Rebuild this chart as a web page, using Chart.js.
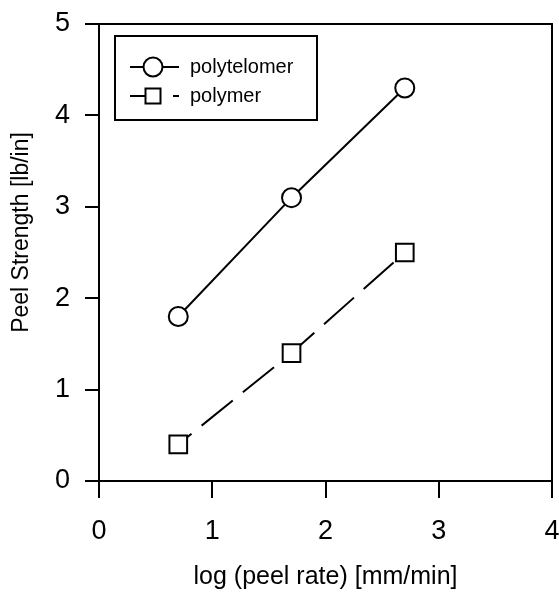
<!DOCTYPE html>
<html>
<head>
<meta charset="utf-8">
<script src="https://cdn.jsdelivr.net/npm/chart.js@4/dist/chart.umd.min.js"></script>
<style>
  body { margin: 0; background: #fff; }
  canvas { display: block; }
</style>
</head>
<body>
<canvas id="peelChart" width="559" height="592"></canvas>
<script>
// log(peel rate) values and the measured peel strengths
const peelRate = [0.7, 1.7, 2.7];
const polytelomer = [1.8, 3.1, 4.3];
const polymer = [0.4, 1.4, 2.5];
const seriesNames = ['polytelomer', 'polymer'];
const yTitleText = 'Peel Strength [lb/in]';

const FONT = "'Liberation Sans', Arial, sans-serif";

const toPoints = (ys) => ys.map((y, i) => ({ x: peelRate[i], y: y }));

// closes the frame on the top and right sides
const frame = {
    id: 'frame',
    afterDraw(chart) {
        const { ctx, chartArea: a } = chart;
        ctx.save();
        ctx.strokeStyle = '#000';
        ctx.lineWidth = 2;
        ctx.beginPath();
        ctx.moveTo(a.left, a.top);
        ctx.lineTo(a.right, a.top);
        ctx.lineTo(a.right, a.bottom);
        ctx.stroke();
        ctx.restore();
    }
};

// vertical axis title, sitting a bit above the middle of the axis
const yTitle = {
    id: 'yTitle',
    afterDraw(chart) {
        const { ctx, chartArea: a } = chart;
        ctx.save();
        ctx.translate(22, (a.top + a.bottom) / 2 - 20);
        ctx.rotate(-Math.PI / 2);
        ctx.fillStyle = '#000';
        ctx.font = '23px ' + FONT;
        ctx.textAlign = 'center';
        ctx.textBaseline = 'middle';
        ctx.fillText(yTitleText, 0, 0);
        ctx.restore();
    }
};

// boxed legend with line + marker samples
const boxLegend = {
    id: 'boxLegend',
    afterDraw(chart) {
        const { ctx, chartArea: a } = chart;
        const left = a.left + 16, top = a.top + 12;
        ctx.save();
        ctx.strokeStyle = '#000';
        ctx.fillStyle = '#fff';
        ctx.lineWidth = 2;
        ctx.strokeRect(left, top, 202, 84);

        const rows = [top + 31, top + 60];
        const mx = left + 38;

        // polytelomer: solid line through a circle
        let y = rows[0];
        ctx.beginPath();
        ctx.moveTo(left + 15, y);
        ctx.lineTo(left + 64, y);
        ctx.stroke();
        ctx.beginPath();
        ctx.arc(mx, y, 9.5, 0, Math.PI * 2);
        ctx.fill();
        ctx.stroke();

        // polymer: short dashes around a square
        y = rows[1];
        ctx.beginPath();
        ctx.moveTo(left + 15, y);
        ctx.lineTo(left + 31, y);
        ctx.moveTo(left + 58, y);
        ctx.lineTo(left + 64, y);
        ctx.stroke();
        ctx.fillRect(mx - 7.5, y - 7.5, 15, 15);
        ctx.strokeRect(mx - 7.5, y - 7.5, 15, 15);

        ctx.fillStyle = '#000';
        ctx.font = '20px ' + FONT;
        ctx.textBaseline = 'middle';
        ctx.textAlign = 'left';
        seriesNames.forEach((name, i) => ctx.fillText(name, left + 75, rows[i]));
        ctx.restore();
    }
};

const ctx = document.getElementById('peelChart').getContext('2d');
new Chart(ctx, {
    type: 'line',
    data: {
        datasets: [{
            label: seriesNames[0],
            data: toPoints(polytelomer),
            borderColor: '#000',
            borderWidth: 2,
            pointStyle: 'circle',
            pointRadius: 9.5,
            pointBorderWidth: 2,
            pointBackgroundColor: '#fff',
            pointBorderColor: '#000',
            tension: 0
        }, {
            label: seriesNames[1],
            data: toPoints(polymer),
            borderColor: '#000',
            borderWidth: 2,
            borderDash: [40, 13],
            borderDashOffset: 23,
            pointStyle: 'rect',
            pointRadius: 12.5,
            pointBorderWidth: 2,
            pointBackgroundColor: '#fff',
            pointBorderColor: '#000',
            tension: 0
        }]
    },
    options: {
        responsive: false,
        animation: false,
        layout: { autoPadding: false, padding: { top: 24, right: 7, left: 0, bottom: 0 } },
        plugins: {
            legend: { display: false },
            tooltip: { enabled: false }
        },
        scales: {
            x: {
                type: 'linear',
                min: 0,
                max: 4,
                afterFit: (scale) => {
                    scale.height = 111;
                    scale.paddingLeft = 0;
                    scale.paddingRight = 0;
                },
                ticks: {
                    stepSize: 1,
                    color: '#000',
                    padding: 17,
                    font: { family: FONT, size: 27 }
                },
                grid: {
                    drawOnChartArea: false,
                    drawTicks: true,
                    tickLength: 17,
                    color: '#000',
                    lineWidth: 2
                },
                border: { display: true, color: '#000', width: 2 },
                title: {
                    display: true,
                    text: 'log (peel rate) [mm/min]',
                    color: '#000',
                    font: { family: FONT, size: 25 },
                    padding: { top: 0, bottom: 0 }
                }
            },
            y: {
                min: 0,
                max: 5,
                afterFit: (scale) => {
                    scale.width = 99;
                    scale.paddingTop = 0;
                    scale.paddingBottom = 0;
                },
                ticks: {
                    stepSize: 1,
                    color: '#000',
                    padding: 15,
                    font: { family: FONT, size: 27 }
                },
                grid: {
                    drawOnChartArea: false,
                    drawTicks: true,
                    tickLength: 14,
                    color: '#000',
                    lineWidth: 2
                },
                border: { display: true, color: '#000', width: 2 }
            }
        }
    },
    plugins: [frame, yTitle, boxLegend]
});
</script>
</body>
</html>
